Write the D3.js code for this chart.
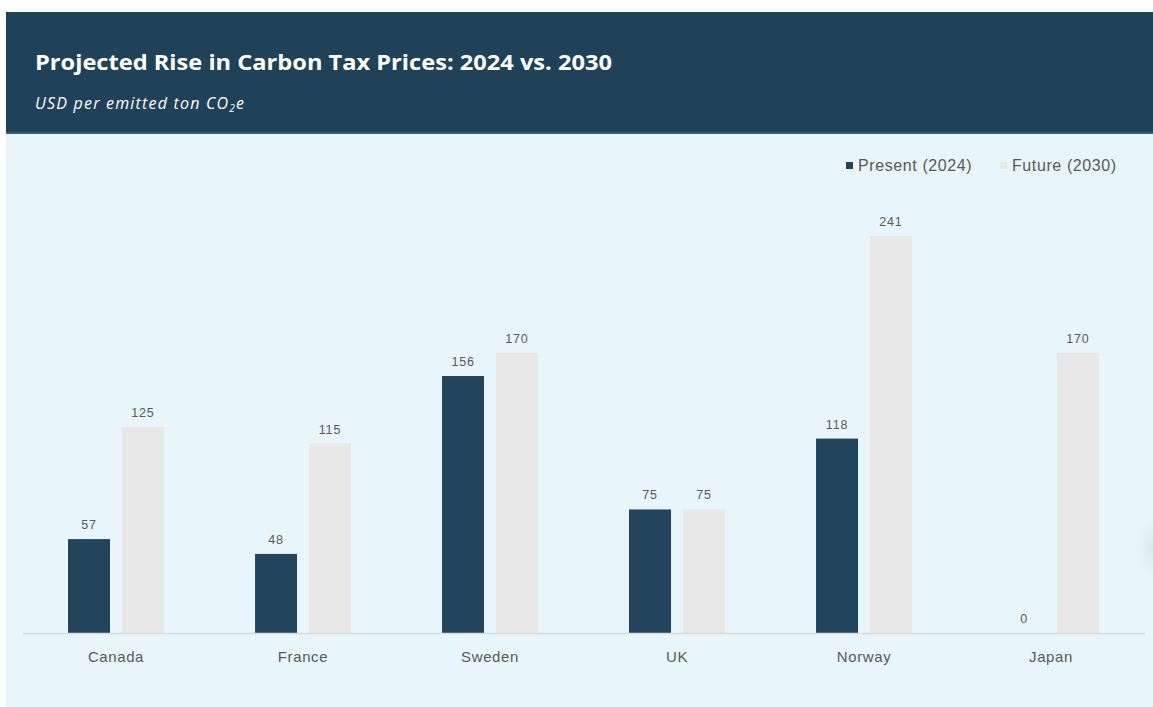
<!DOCTYPE html>
<html>
<head>
<meta charset="utf-8">
<script src="https://cdn.jsdelivr.net/npm/d3@7"></script>
<style>
  body { margin:0; background:#fff; }
  svg { display:block; }
</style>
</head>
<body>
<div id="chart"></div>
<script>
// data
var countries = ['Canada', 'France', 'Sweden', 'UK', 'Norway', 'Japan'];
var present2024 = [57, 48, 156, 75, 118, 0];
var future2030 = [125, 115, 170, 75, 241, 170];
var seriesNames = ['Present (2024)', 'Future (2030)'];

var W = 1153, H = 707;
var colors = {
    header: '#1f4259',
    panel: '#e8f5fa',
    present: '#21435c',
    future: '#e8e8e8',
    axis: '#d6dde0',
    text: '#595959'
};
var labelFont = 'Liberation Sans, Arial, sans-serif';

var svg = d3.select('#chart').append('svg')
    .attr('width', W)
    .attr('height', H);

var defs = svg.append('defs');
var blob = defs.append('radialGradient').attr('id', 'blob');
blob.append('stop').attr('offset', '0%').attr('stop-color', '#c9dde4').attr('stop-opacity', 0.8);
blob.append('stop').attr('offset', '100%').attr('stop-color', colors.panel).attr('stop-opacity', 0);

// panel + header
svg.append('rect')
    .attr('x', 6).attr('y', 12)
    .attr('width', W - 6).attr('height', H - 12)
    .attr('fill', colors.panel);
svg.append('ellipse')
    .attr('cx', 1160).attr('cy', 548)
    .attr('rx', 30).attr('ry', 40)
    .attr('fill', 'url(#blob)');
svg.append('rect')
    .attr('x', 6).attr('y', 12)
    .attr('width', W - 6).attr('height', 122)
    .attr('fill', colors.header);
svg.append('rect')
    .attr('x', 6).attr('y', 132)
    .attr('width', W - 6).attr('height', 2)
    .attr('fill', '#3d5d72');

svg.append('text')
    .attr('x', 35).attr('y', 70)
    .attr('fill', '#fff')
    .attr('font-family', 'Open Sans, sans-serif')
    .attr('font-weight', 'bold')
    .attr('font-size', 21)
    .attr('textLength', 577)
    .attr('lengthAdjust', 'spacingAndGlyphs')
    .text('Projected Rise in Carbon Tax Prices: 2024 vs. 2030');

var sub = svg.append('text')
    .attr('x', 35).attr('y', 109)
    .attr('fill', '#fff')
    .attr('font-family', 'Open Sans, sans-serif')
    .attr('font-style', 'italic')
    .attr('font-size', 16)
    .attr('letter-spacing', 1.2);
sub.append('tspan').text('USD per emitted ton CO');
sub.append('tspan').attr('font-size', 10).attr('dy', 3).text('2');
sub.append('tspan').attr('dy', -3).text('e');

// scales
var baseY = 633;
var x0 = d3.scaleBand()
    .domain(countries)
    .range([22.5, 1144.5])
    .paddingInner(0.487)
    .paddingOuter(0.2435);
var x1 = d3.scaleBand()
    .domain([0, 1])
    .range([0, x0.bandwidth()])
    .paddingInner(0.222);
var y = d3.scaleLinear()
    .domain([0, 241])
    .range([baseY, 236]);

var rows = countries.map(function(c, i){
    return {country: c, vals: [present2024[i], future2030[i]]};
});

var groups = svg.append('g').attr('class', 'groups')
    .selectAll('g')
    .data(rows)
    .enter()
    .append('g')
    .attr('transform', function(d){ return 'translate(' + x0(d.country) + ',0)'; });

var bars = groups.selectAll('g.bar')
    .data(function(d){ return d.vals.map(function(v, k){ return {v: v, k: k}; }); })
    .enter()
    .append('g')
    .attr('class', 'bar');

bars.append('rect')
    .attr('x', function(d){ return x1(d.k); })
    .attr('y', function(d){ return y(d.v); })
    .attr('width', x1.bandwidth())
    .attr('height', function(d){ return baseY - y(d.v); })
    .attr('fill', function(d){ return d.k == 0 ? colors.present : colors.future; });

bars.append('text')
    .attr('x', function(d){ return x1(d.k) + x1.bandwidth() / 2; })
    .attr('y', function(d){ return y(d.v) - 10; })
    .attr('text-anchor', 'middle')
    .attr('font-family', labelFont)
    .attr('font-size', 12.5)
    .attr('letter-spacing', 0.8)
    .attr('fill', colors.text)
    .text(function(d){ return d.v; });

// x axis
var xAxis = svg.append('g')
    .attr('transform', 'translate(0,' + baseY + ')')
    .call(d3.axisBottom(x0).tickSize(0).tickPadding(18));
xAxis.select('.domain').attr('stroke', colors.axis).attr('stroke-width', 1.5);
xAxis.selectAll('text')
    .attr('font-family', labelFont)
    .attr('font-size', 15)
    .attr('letter-spacing', 0.6)
    .attr('fill', colors.text);

// legend
var legend = svg.append('g').attr('class', 'legend');
var legendX = [846, 1000];
seriesNames.forEach(function(name, k){
    legend.append('rect')
        .attr('x', legendX[k]).attr('y', 162)
        .attr('width', 7).attr('height', 7)
        .attr('fill', k == 0 ? colors.present : colors.future);
    legend.append('text')
        .attr('x', legendX[k] + 12).attr('y', 171)
        .attr('font-family', labelFont)
        .attr('font-size', 16)
        .attr('letter-spacing', 0.6)
        .attr('fill', colors.text)
        .text(name);
});
</script>
</body>
</html>
